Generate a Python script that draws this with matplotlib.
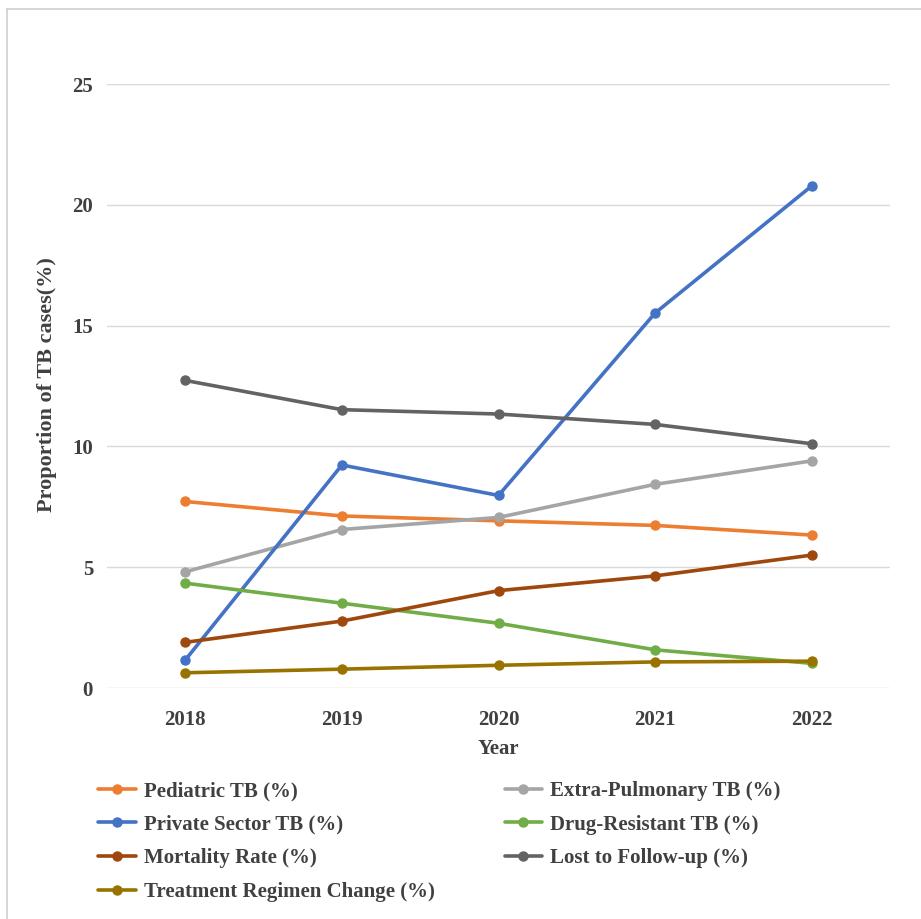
import matplotlib.pyplot as plt
import matplotlib.lines as mlines

years = ['2018', '2019', '2020', '2021', '2022']

pediatric = [7.72, 7.12, 6.92, 6.73, 6.33]
extra_pulmonary = [4.81, 6.56, 7.06, 8.43, 9.40]
private_sector = [1.16, 9.23, 7.97, 15.52, 20.78]
drug_resistant = [4.34, 3.51, 2.68, 1.58, 1.02]
mortality = [1.89, 2.77, 4.03, 4.64, 5.50]
lost_followup = [12.73, 11.52, 11.34, 10.91, 10.11]
regimen_change = [0.63, 0.78, 0.94, 1.08, 1.11]

series = [
    ('Pediatric TB (%)', pediatric, '#ED7D31'),
    ('Extra-Pulmonary TB (%)', extra_pulmonary, '#A5A5A5'),
    ('Private Sector TB (%)', private_sector, '#4472C4'),
    ('Drug-Resistant TB (%)', drug_resistant, '#70AD47'),
    ('Mortality Rate (%)', mortality, '#9E480E'),
    ('Lost to Follow-up (%)', lost_followup, '#636363'),
    ('Treatment Regimen Change (%)', regimen_change, '#997300'),
]

plt.rcParams['font.family'] = ['Liberation Serif', 'DejaVu Serif']
plt.rcParams['font.weight'] = 'bold'
txt = '#404040'

fig = plt.figure(figsize=(9.21, 9.19), dpi=100)
ax = fig.add_axes([107 / 921, 1 - 688 / 919, 783 / 921, 604 / 919])

x = range(len(years))
handles = {}
for name, vals, col in series:
    h, = ax.plot(x, vals, color=col, lw=2.6, marker='o', ms=6.5,
                 solid_capstyle='round', label=name)
    handles[name] = h

ax.set_xlim(-0.5, len(years) - 0.5)
ax.set_ylim(0, 25)
ax.set_yticks([0, 5, 10, 15, 20, 25])
ax.set_xticks(list(x))
ax.set_xticklabels(years)
ax.grid(axis='y', color='#D9D9D9', lw=1)
ax.set_axisbelow(True)
for s in ax.spines.values():
    s.set_visible(False)
ax.tick_params(axis='y', length=0, pad=10, labelsize=15, labelcolor=txt)
ax.tick_params(axis='x', length=0, pad=16, labelsize=15, labelcolor=txt)

ax.set_xlabel('Year', fontsize=15, fontweight='bold', color=txt, labelpad=6)
fig.text(47 / 921, 1 - 385 / 919, 'Proportion of TB cases(%)', rotation=90,
         ha='center', va='center', fontsize=16, fontweight='bold', color=txt)

# legend fills column-wise, so reorder to get the row layout
order = ['Pediatric TB (%)', 'Private Sector TB (%)', 'Mortality Rate (%)',
         'Treatment Regimen Change (%)', 'Extra-Pulmonary TB (%)',
         'Drug-Resistant TB (%)', 'Lost to Follow-up (%)']
leg = fig.legend([handles[n] for n in order], order, ncol=2, frameon=False,
                 loc='upper left', bbox_to_anchor=(98 / 921, 1 - 781 / 919),
                 borderaxespad=0, borderpad=0, fontsize=15,
                 handlelength=1.8, handletextpad=0.4, columnspacing=3.35,
                 labelspacing=0.66)
for t in leg.get_texts():
    t.set_color(txt)

# light frame on the left and top edges
fig.add_artist(mlines.Line2D([7 / 921, 7 / 921], [0, 1 - 9 / 919],
                             color='#D0D0D0', lw=1.2))
fig.add_artist(mlines.Line2D([7 / 921, 1], [1 - 9 / 919, 1 - 9 / 919],
                             color='#D0D0D0', lw=1.2))

fig.savefig('out.png', dpi=100)
